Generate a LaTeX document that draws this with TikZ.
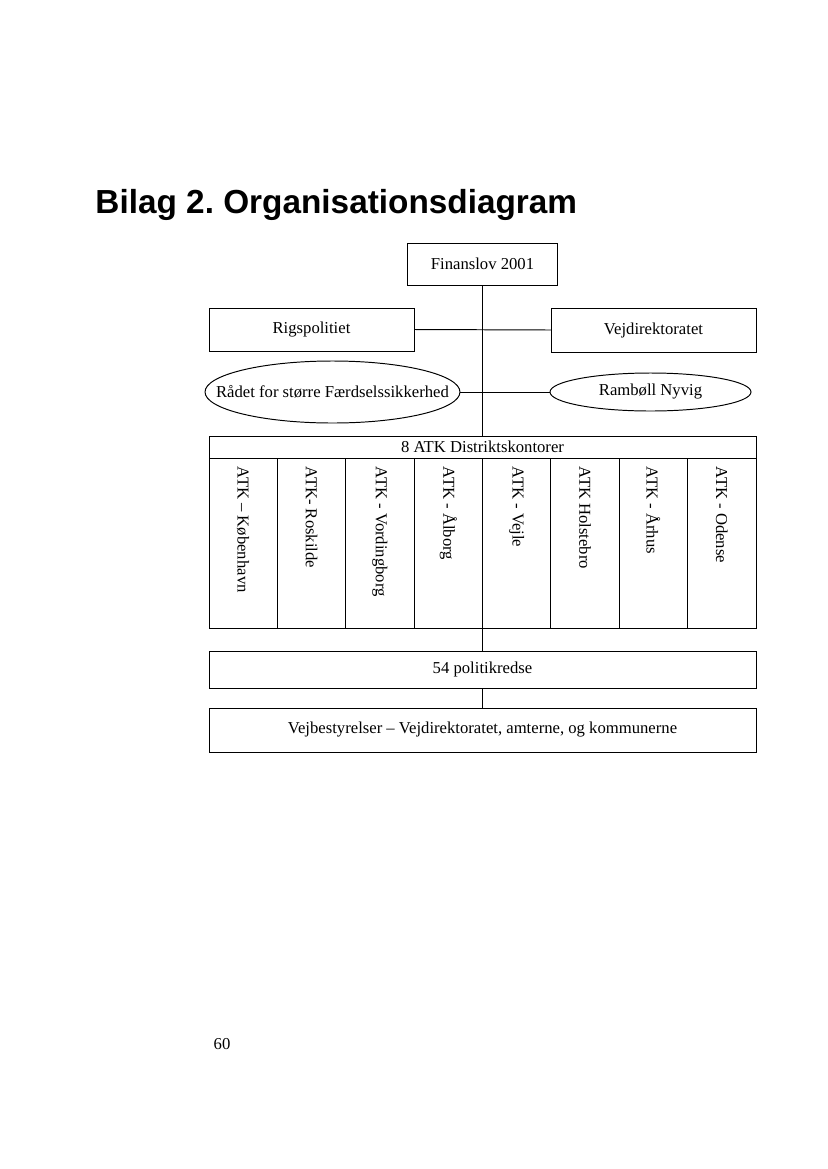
\documentclass[tikz,border=0pt]{standalone}
\usepackage{fontspec}
\setmainfont{Liberation Serif}
\newfontfamily\headfont{Liberation Sans}
\usetikzlibrary{shapes.geometric}
\frenchspacing

\begin{document}
\begin{tikzpicture}[x=0.72pt, y=-0.72pt, font=\fontsize{12}{14}\selectfont, line width=0.7pt,
        box/.style 2 args={draw, rectangle, inner sep=0pt, outer sep=0pt, minimum width=#1*0.72pt, minimum height=#2*0.72pt},
        blob/.style 2 args={draw, ellipse, inner sep=0pt, outer sep=0pt, minimum width=#1*0.72pt, minimum height=#2*0.72pt},
        atk/.style={rotate=-90, anchor=west, inner sep=0pt}]
        \useasboundingbox (0,0) rectangle (827,1169);
        \node[anchor=base west, inner sep=0pt, font=\headfont\bfseries\fontsize{24}{28}\selectfont] (title) at (95, 213) {Bilag 2. Organisationsdiagram};
        %
        \node[box={150}{42}] (fin) at (482.5, 264) {Finanslov 2001};
        \node[box={205}{43}] (rigs) at (311.5, 329.5) {Rigspolitiet};
        \node[box={205}{44}] (vejd) at (653.5, 330) {Vejdirektoratet};
        \node[blob={255}{62}] (raad) at (332.5, 392) {\makebox[0pt][c]{Rådet for større Færdselssikkerhed}};
        \node[blob={201}{38}] (ramb) at (650.5, 392) {\makebox[0pt][c]{Rambøll Nyvig}};
        %
        \node[box={547}{22}] (head) at (482.5, 447) {8 ATK Distriktskontorer};
        \foreach \name [count=\i] in {ATK – København, ATK- Roskilde, ATK - Vordingborg, ATK - Ålborg, ATK - Vejle, ATK Holstebro, ATK - Århus, ATK - Odense} {
            \node[box={68.375}{170}] (col\i) at ({209+68.375*(\i-0.5)}, 543) {};
            \node[atk] (lab\i) at ([yshift=-6pt]col\i.north) {\name};
        }
        %
        \node[box={547}{37}] (pol) at (482.5, 669.5) {54 politikredse};
        \node[box={547}{44}] (vejb) at (482.5, 730) {Vejbestyrelser – Vejdirektoratet, amterne, og kommunerne};
        \node (pagenum) at (222, 1044) {60};
        %
        \draw (fin.south) -- (head.north);
        \draw (rigs.east) -- (vejd.west);
        \draw (raad.east) -- (ramb.west);
        \draw (col4.south east) -- (pol.north);
        \draw (pol.south) -- (vejb.north);
\end{tikzpicture}
\end{document}
